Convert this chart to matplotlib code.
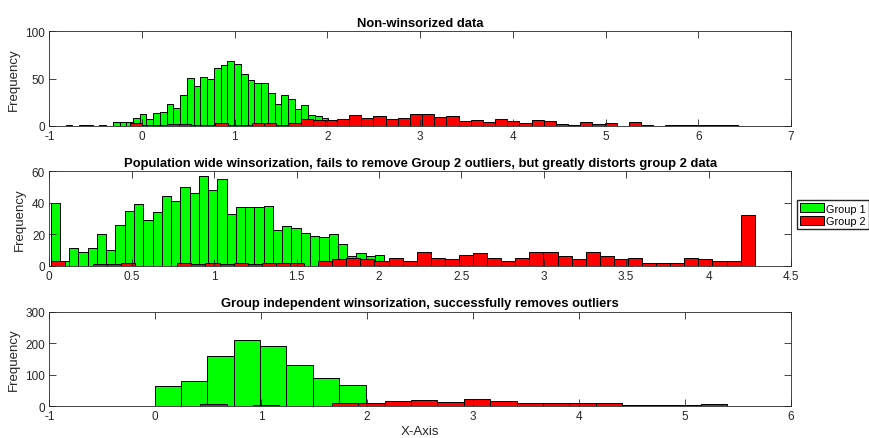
import numpy as np
import matplotlib
matplotlib.use("Agg")
from matplotlib import pyplot as plt
from matplotlib.ticker import FormatStrFormatter

plt.rcParams['font.family'] = ['Liberation Sans', 'DejaVu Sans']
plt.rcParams['axes.unicode_minus'] = False

# Panel 1 - raw data histograms
raw_g1_edges = np.linspace(-0.824, 2.084, 41)
raw_g1 = [1, 0, 1, 1, 0, 1, 0, 4, 4, 4, 8, 12, 7, 13, 14, 23, 19, 33, 51, 42,
          52, 50, 61, 64, 69, 65, 55, 48, 45, 45, 35, 23, 33, 28, 18, 22, 11, 10, 8, 3]
raw_g2_edges = np.linspace(-0.127, 6.433, 51)
raw_g2 = [3, 1, 1, 2, 2, 1, 1, 3, 1, 1, 3, 3, 1, 3, 7, 6, 6, 7, 11, 8,
          10, 7, 8, 12, 12, 9, 10, 5, 6, 4, 7, 5, 3, 6, 5, 2, 1, 4, 2, 3,
          0, 4, 1, 0, 1, 1, 1, 1, 1, 1]

# Panel 2 - population wide winsorization
pop_g1_edges = np.linspace(0.008, 2.088, 38)
pop_g1 = [40, 3, 11, 9, 11, 20, 10, 26, 35, 39, 29, 34, 44, 41, 50, 46, 57, 48, 55, 33,
          37, 37, 37, 38, 23, 25, 24, 21, 19, 18, 20, 14, 6, 8, 6, 7, 3]
pop_g2_edges = np.linspace(0.008, 4.28, 51)
pop_g2 = [3, 0, 0, 1, 1, 2, 0, 0, 0, 2, 1, 2, 1, 2, 1, 2, 2, 2, 0, 3,
          4, 5, 4, 3, 5, 3, 9, 5, 4, 7, 8, 5, 3, 5, 9, 9, 6, 4, 9, 6,
          4, 5, 2, 2, 2, 5, 4, 3, 3, 32]

# Panel 3 - group independent winsorization
grp_g1_edges = np.linspace(-0.005, 1.985, 9)
grp_g1 = [63, 79, 160, 210, 191, 130, 90, 68]
grp_g2_edges = np.linspace(0.425, 5.4, 21)
grp_g2 = [6, 2, 3, 2, 2, 10, 10, 16, 19, 14, 23, 17, 10, 10, 10, 10, 4, 3, 4, 8]

titles = ['Non-winsorized data',
          'Population wide winsorization, fails to remove Group 2 outliers, but greatly distorts group 2 data',
          'Group independent winsorization, successfully removes outliers']
xlims = [(-1, 7), (0, 4.5), (-1, 6)]
xticks = [np.arange(-1, 8, 1), np.arange(0, 4.51, 0.5), np.arange(-1, 7, 1)]
ylims = [(0, 100), (0, 60), (0, 300)]
yticks = [[0, 50, 100], [0, 20, 40, 60], [0, 100, 200, 300]]

panels = [(raw_g1_edges, raw_g1, raw_g2_edges, raw_g2),
          (pop_g1_edges, pop_g1, pop_g2_edges, pop_g2),
          (grp_g1_edges, grp_g1, grp_g2_edges, grp_g2)]
bottoms = [0.7114, 0.3925, 0.0722]

dark = '#262626'
fig = plt.figure(figsize=(8.69, 4.39), dpi=100)
for i, (e1, c1, e2, c2) in enumerate(panels):
    ax = fig.add_axes([0.0567, bottoms[i], 0.8535, 0.215])
    ax.bar(e1[:-1], c1, width=np.diff(e1), align='edge', color=(0, 1, 0),
           edgecolor='black', linewidth=0.7, label='Group 1')
    ax.bar(e2[:-1], c2, width=np.diff(e2), align='edge', color=(1, 0, 0),
           edgecolor='black', linewidth=0.7, label='Group 2')
    ax.set_xlim(xlims[i])
    ax.set_ylim(ylims[i])
    ax.set_xticks(xticks[i])
    ax.set_yticks(yticks[i])
    ax.xaxis.set_major_formatter(FormatStrFormatter('%g'))
    ax.tick_params(direction='in', top=True, right=True, length=5, width=0.6,
                   color=dark, labelcolor=dark, labelsize=8.5, pad=3)
    for sp in ax.spines.values():
        sp.set_color(dark)
        sp.set_linewidth(0.6)
    ax.set_title(titles[i], fontsize=9.4, fontweight='bold', pad=4)
    ax.set_ylabel('Frequency', fontsize=9.5, color=dark, labelpad=4)
    if i == 1:
        ax.legend(loc='upper left', bbox_to_anchor=(0.917, 0.542),
                  bbox_transform=fig.transFigure, fontsize=7.8,
                  fancybox=False, edgecolor=dark, framealpha=1, borderpad=0.3,
                  handlelength=2.2, handleheight=0.9, handletextpad=0.2,
                  labelspacing=0.2, borderaxespad=0)
    if i == 2:
        ax.set_xlabel('X-Axis', fontsize=9.5, color=dark, labelpad=2)

fig.savefig('out.png', dpi=100)
